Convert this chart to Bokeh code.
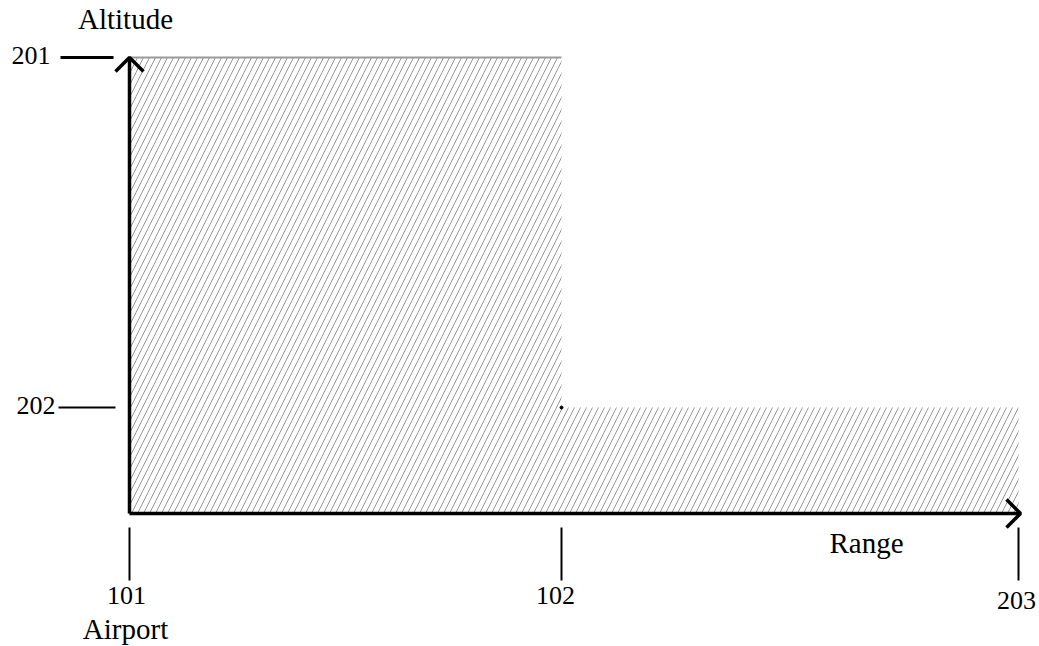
from bokeh.plotting import figure
from bokeh.models import Range1d
from bokeh.core.properties import value
from bokeh.embed import file_html
from bokeh.resources import INLINE

# ---- data (abstract units, 1 unit = 1 px of the diagram) ----
range_labels = ["101", "102", "203"]
range_values = [0, 432, 889]          # airport, point 102, point 203
altitude_labels = ["201", "202"]
altitude_values = [456, 106]          # high altitude, low altitude
origin_label = "Airport"
x_axis_title = "Range"
y_axis_title = "Altitude"

FONT = value("Liberation Serif")
FS_NUM = "26px"
FS_WORD = "29px"
SH = 10  # baseline correction

p = figure(width=1039, height=646, output_backend="svg", toolbar_location=None,
           x_range=Range1d(-129, 910), y_range=Range1d(-133, 513),
           min_border=0, outline_line_color=None)
p.axis.visible = False
p.grid.visible = False
p.background_fill_color = "white"

x0, x1, x2 = range_values
a_hi, a_lo = altitude_values

# hatched L-shaped region
p.patch([x0, x1, x1, x2, x2, x0], [a_hi, a_hi, a_lo, a_lo, 0, 0],
        fill_color=None, line_color=None,
        hatch_pattern="/", hatch_color="#8a8a8a", hatch_scale=12, hatch_weight=0.9)
p.line([x0, x1], [a_hi, a_hi], line_color="#9a9a9a", line_width=2)
p.scatter([x1], [a_lo], size=3, color="black")

# axes with open arrow heads
x_end = x2 + 2
p.line([x0, x0], [0, a_hi], line_color="black", line_width=3.5)
p.line([x0, x_end], [0, 0], line_color="black", line_width=3.5)
h = 14
p.line([x0 - h, x0, x0 + h], [a_hi - h, a_hi, a_hi - h], line_color="black", line_width=3.5)
p.line([x_end - h, x_end, x_end - h], [h, 0, -h], line_color="black", line_width=3.5)

# range reference ticks
p.segment(x0=range_values, y0=[-14] * 3, x1=range_values, y1=[-67] * 3,
          line_color="black", line_width=2)
lab_dx = [-3, -6, -2]
lab_dy = [-92, -92, -97]
p.text(x=[v + d for v, d in zip(range_values, lab_dx)], y=[d + SH for d in lab_dy],
       text=range_labels, text_font=FONT, text_font_size=FS_NUM, text_align="center",
       text_baseline="alphabetic", text_color="black")
p.text(x=[x0 - 4], y=[-125 + SH], text=[origin_label], text_font=FONT,
       text_font_size=FS_WORD, text_align="center", text_baseline="alphabetic",
       text_color="black")

# altitude leaders
p.segment(x0=[-69, -71], y0=altitude_values, x1=[-16, -14], y1=altitude_values,
          line_color="black", line_width=[3, 2])
p.text(x=[-79, -74], y=[v - 8 + SH for v in altitude_values], text=altitude_labels,
       text_font=FONT, text_font_size=FS_NUM, text_align="right",
       text_baseline="alphabetic", text_color="black")

# axis titles
p.text(x=[x0 - 4], y=[485 + SH], text=[y_axis_title], text_font=FONT,
       text_font_size=FS_WORD, text_align="center", text_baseline="alphabetic",
       text_color="black")
p.text(x=[737], y=[-39 + SH], text=[x_axis_title], text_font=FONT,
       text_font_size=FS_WORD, text_align="center", text_baseline="alphabetic",
       text_color="black")

open("out.html", "w").write(file_html(p, INLINE))
